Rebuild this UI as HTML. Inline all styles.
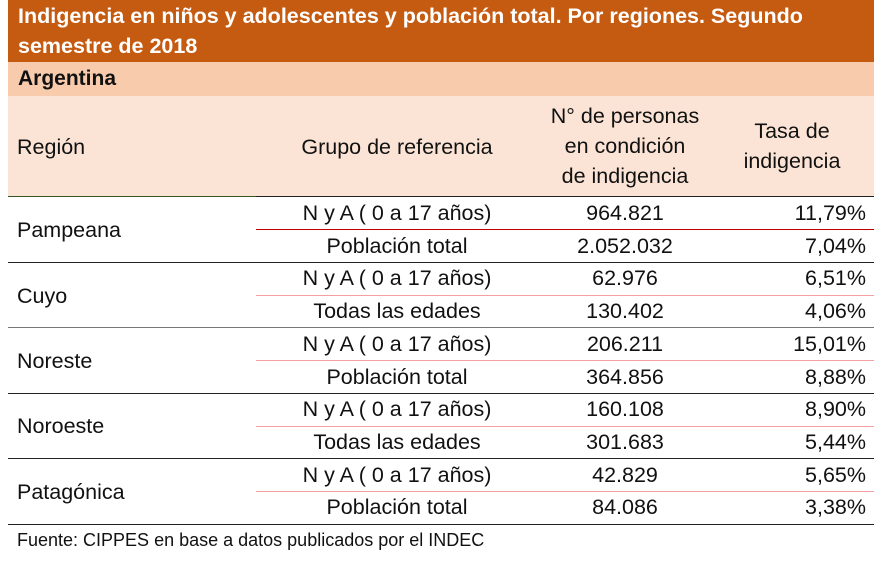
<!DOCTYPE html>
<html><head><meta charset="utf-8"><style>
body{margin:0;width:884px;height:570px;background:#fff;font-family:"Liberation Sans",sans-serif;position:relative;overflow:hidden;color:#111}
div{position:absolute}
.t{left:8px;top:0;width:866px;height:62px;background:#C55A11;color:#fff;font-weight:bold;font-size:21.5px;line-height:30px;padding:1px 0 0 10px;box-sizing:border-box;white-space:nowrap}
.a{left:8px;top:62px;width:866px;height:34px;background:#F8CBAD;font-weight:bold;font-size:21px;line-height:34px;padding-left:10px;box-sizing:border-box}
.h{left:8px;top:96px;width:866px;height:100px;background:#FBE4D5}
.c{font-size:21.5px;line-height:32.7px;white-space:nowrap}
.hc{font-size:21.5px;line-height:30px;text-align:center;white-space:nowrap}
.l{height:1px;left:8px;width:866px;background:#222}
.r{height:1px;left:256px;width:618px}
</style></head><body>
<div class="t">Indigencia en niños y adolescentes y población total. Por regiones. Segundo<br>semestre de 2018</div>
<div class="a">Argentina</div>
<div class="h"></div>
<div class="hc" style="left:17px;top:132px;text-align:left">Región</div>
<div class="hc" style="left:256px;top:132px;width:282px">Grupo de referencia</div>
<div class="hc" style="left:536px;top:101px;width:178px">N° de personas<br>en condición<br>de indigencia</div>
<div class="hc" style="left:714px;top:116px;width:156px">Tasa de<br>indigencia</div>

<div class="l" style="top:196px;background:#375623;width:250px"></div><div class="l" style="top:196px;left:256px;width:618px"></div>
<div class="r" style="top:229px;background:#C00000"></div>
<div class="l" style="top:262px"></div>
<div class="r" style="top:295px;background:#F4A0A0"></div>
<div class="l" style="top:327px;background:#777"></div>
<div class="r" style="top:360px;background:#F4A0A0"></div>
<div class="l" style="top:393px"></div>
<div class="r" style="top:426px;background:#F4A0A0"></div>
<div class="l" style="top:458px"></div>
<div class="r" style="top:491px;background:#F4A0A0"></div>
<div class="l" style="top:524px"></div>

<div class="c" style="left:17px;top:214px">Pampeana</div>
<div class="c" style="left:17px;top:280px">Cuyo</div>
<div class="c" style="left:17px;top:345px">Noreste</div>
<div class="c" style="left:17px;top:410px">Noroeste</div>
<div class="c" style="left:17px;top:476px">Patagónica</div>

<div style="left:256px;top:197px;width:282px;text-align:center" class="c">N y A ( 0 a 17 años)<br>Población total<br>N y A ( 0 a 17 años)<br>Todas las edades<br>N y A ( 0 a 17 años)<br>Población total<br>N y A ( 0 a 17 años)<br>Todas las edades<br>N y A ( 0 a 17 años)<br>Población total</div>
<div style="left:536px;top:197px;width:178px;text-align:center" class="c">964.821<br>2.052.032<br>62.976<br>130.402<br>206.211<br>364.856<br>160.108<br>301.683<br>42.829<br>84.086</div>
<div style="left:714px;top:197px;width:152px;text-align:right" class="c">11,79%<br>7,04%<br>6,51%<br>4,06%<br>15,01%<br>8,88%<br>8,90%<br>5,44%<br>5,65%<br>3,38%</div>
<div style="left:17px;top:529px;font-size:18px;line-height:22px">Fuente: CIPPES en base a datos publicados por el INDEC</div>
</body></html>
